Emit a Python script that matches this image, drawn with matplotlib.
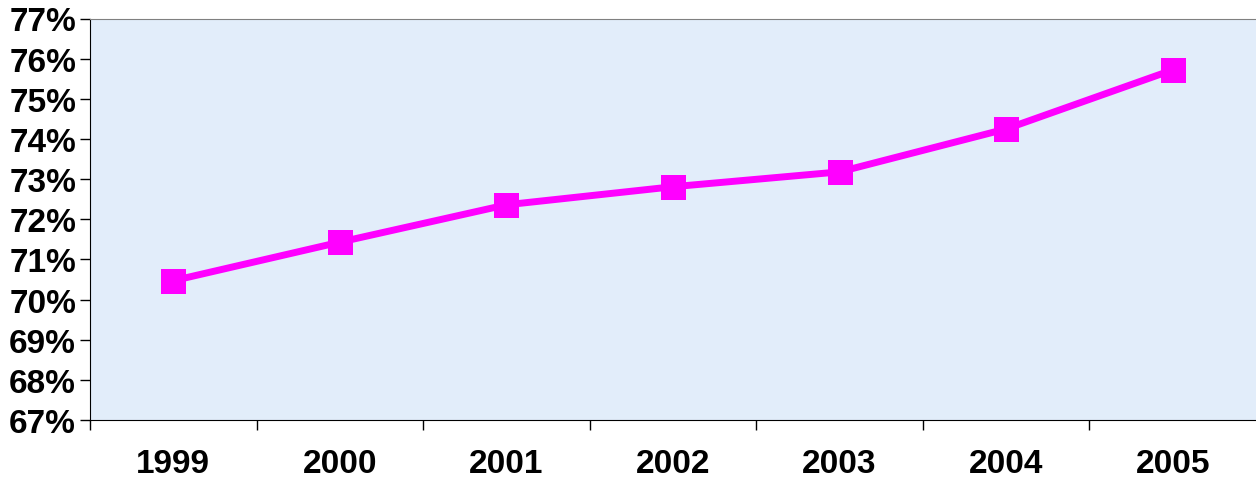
import matplotlib.pyplot as plt
from matplotlib.ticker import FuncFormatter, MultipleLocator

years = ["1999", "2000", "2001", "2002", "2003", "2004", "2005"]
rates = [70.47, 71.43, 72.36, 72.81, 73.18, 74.25, 75.72]

plt.rcParams["font.family"] = ["Liberation Sans", "DejaVu Sans"]

fig = plt.figure(figsize=(12.56, 4.81), dpi=100)
ax = fig.add_axes([90 / 1256, 60 / 481, 1 - 90 / 1256, (421 - 19.5) / 481])
ax.set_facecolor("#e2edfa")

positions = range(len(years))
ax.plot(
    positions,
    rates,
    color="#ff00ff",
    linewidth=5,
    marker="s",
    markersize=18,
    markeredgewidth=0,
    solid_joinstyle="miter",
    zorder=3,
)

ax.set_xlim(-0.5, len(years) - 0.5)
ax.set_ylim(67, 77)

# category ticks sit between the years, labels sit under each year
ax.set_xticks([i - 0.5 for i in positions])
ax.set_xticklabels([])
ax.set_xticks(list(positions), minor=True)
ax.set_xticklabels(years, minor=True, fontsize=24, fontweight="bold")
ax.tick_params(axis="x", which="major", direction="out", length=7.5, width=1)
ax.tick_params(axis="x", which="minor", length=0, pad=20)

ax.yaxis.set_major_locator(MultipleLocator(1))
ax.yaxis.set_major_formatter(FuncFormatter(lambda v, _: f"{v:.0f}%"))
ax.tick_params(axis="y", direction="out", length=7, width=1, pad=3)
for label in ax.get_yticklabels():
    label.set_fontsize(24)
    label.set_fontweight("bold")

ax.spines["right"].set_visible(False)
ax.spines["top"].set_color("#808080")
ax.spines["left"].set_color("black")
ax.spines["bottom"].set_color("black")

fig.savefig("out.png", dpi=100)
